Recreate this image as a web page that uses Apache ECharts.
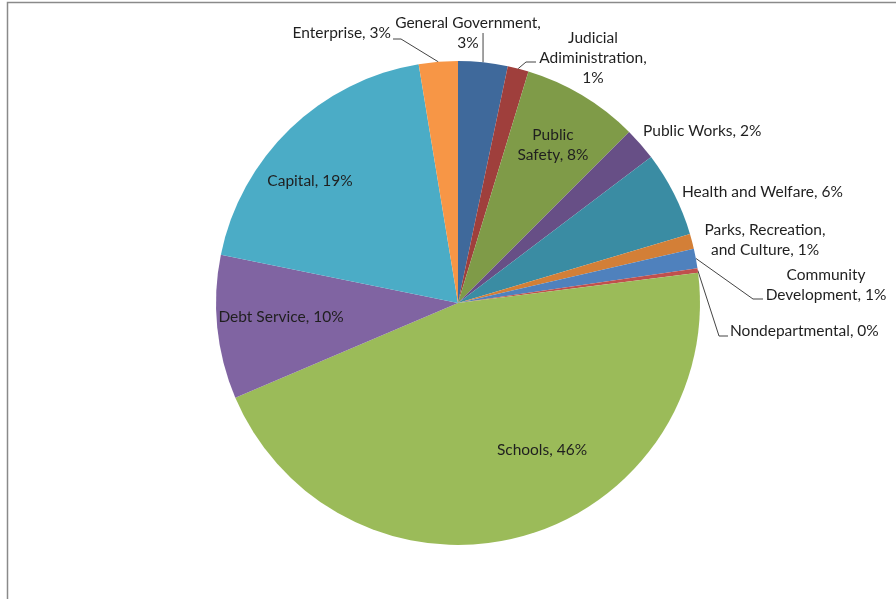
<!DOCTYPE html>
<html>
<head>
<meta charset="utf-8">
<script src="https://cdn.jsdelivr.net/npm/echarts@6/dist/echarts.min.js"></script>
<style>
    html, body {margin: 0; padding: 0; background: #fff;}
    #chart {width: 896px; height: 599px;}
</style>
</head>
<body>
<div id="chart"></div>
<script>
// Slices, clockwise from 12 o'clock. Values are percent of total.
const categories = [
    'General Government', 'Judicial Adiministration', 'Public Safety', 'Public Works',
    'Health and Welfare', 'Parks, Recreation, and Culture', 'Community Development',
    'Nondepartmental', 'Schools', 'Debt Service', 'Capital', 'Enterprise',
];
const values = [3.3, 1.4, 7.8, 2.2, 5.7, 1.0, 1.3, 0.3, 45.6, 9.6, 19.2, 2.6];
// how the category names wrap in the data labels (incl. separator before the percent)
const labelNames = [
    'General Government,\n', 'Judicial\nAdiministration,\n', 'Public\nSafety, ', 'Public Works, ',
    'Health and Welfare, ', 'Parks, Recreation,\nand Culture, ', 'Community\nDevelopment, ',
    'Nondepartmental, ', 'Schools, ', 'Debt Service, ', 'Capital, ', 'Enterprise, ',
];
const colors = [
    '#3f699b', '#9f3f3c', '#7f9b48', '#674f86', '#3a8ca3', '#d37f37',
    '#4f81bd', '#c0504d', '#9bbb59', '#8064a2', '#4bacc6', '#f79646',
];

// label placement (Excel "best fit" look), by slice index
const labelPos = {
    0: {x: 468, y: 33, align: 'center', line: p => [p, [p[0], 33]]},
    1: {x: 593, y: 58, align: 'center', line: p => [p, [526, 62], [536, 62]]},
    2: {x: 553, y: 145, align: 'center'},
    3: {x: 643, y: 131, align: 'left'},
    4: {x: 682, y: 192, align: 'left'},
    5: {x: 765, y: 240, align: 'center'},
    6: {x: 826, y: 285, align: 'center', line: p => [p, [753, 299], [763, 299]]},
    7: {x: 730, y: 331, align: 'left', line: p => [p, [719, 336], [728, 336]]},
    8: {x: 542, y: 450, align: 'center'},
    9: {x: 281, y: 317, align: 'center'},
    10: {x: 310, y: 181, align: 'center'},
    11: {x: 391, y: 33, align: 'right', line: p => [p, [401, 39], [393, 39]]},
};

const chart = echarts.init(document.getElementById('chart'), null, {renderer: 'canvas'});
chart.setOption({
    animation: false,
    backgroundColor: '#fff',
    graphic: [{
        type: 'rect',
        silent: true,
        shape: {x: 7.5, y: 2.5, width: 1000, height: 1000},
        style: {fill: 'none', stroke: '#8a8a8a', lineWidth: 1.5},
    }],
    series: [{
        type: 'pie',
        center: [458, 303],
        radius: 242,
        startAngle: 90,
        clockwise: true,
        avoidLabelOverlap: false,
        itemStyle: {borderWidth: 0},
        emphasis: {disabled: true},
        label: {
            show: true,
            position: 'outside',
            color: '#1f1f1f',
            fontFamily: 'Lato',
            fontSize: 15.5,
            lineHeight: 20,
            formatter: p => labelNames[p.dataIndex] + Math.round(p.percent) + '%',
        },
        labelLine: {
            show: true,
            length: 10,
            length2: 10,
            lineStyle: {color: '#444', width: 1},
        },
        labelLayout: params => {
            const pos = labelPos[params.dataIndex];
            const out = {x: pos.x, y: pos.y, align: pos.align, verticalAlign: 'middle'};
            if (pos.line && params.labelLinePoints) {
                out.labelLinePoints = pos.line(params.labelLinePoints[0]);
            }
            return out;
        },
        data: categories.map((name, i) => ({
            name,
            value: values[i],
            itemStyle: {color: colors[i]},
            labelLine: {show: !!labelPos[i].line},
        })),
    }],
});
</script>
</body>
</html>
